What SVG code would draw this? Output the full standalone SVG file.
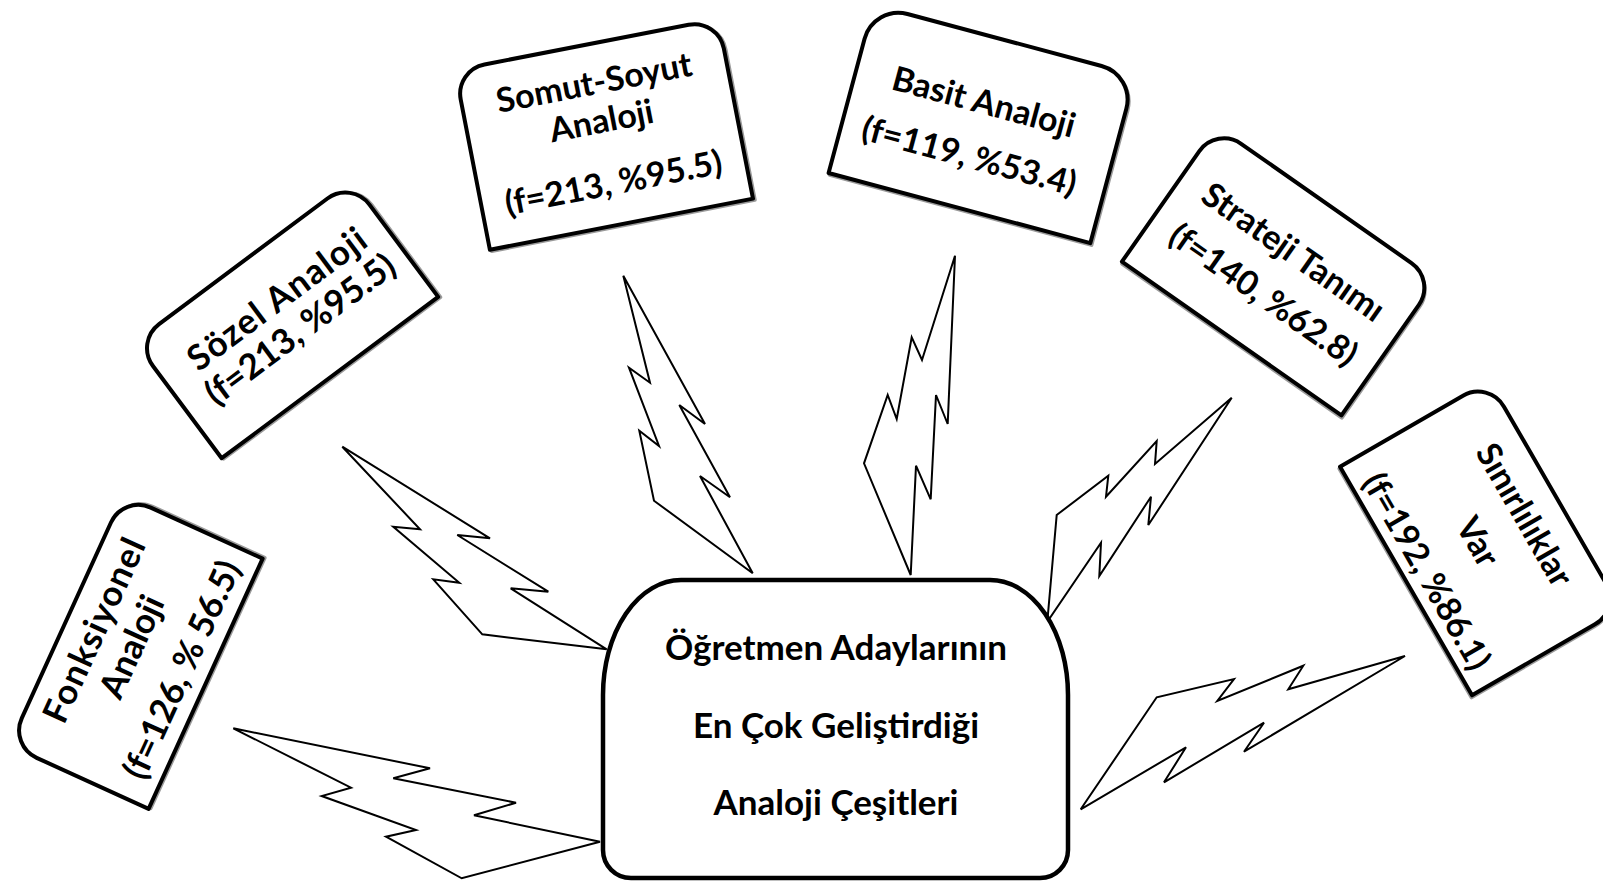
<svg xmlns="http://www.w3.org/2000/svg" width="1603" height="882" viewBox="0 0 1603 882">
<style>
.bg{fill:#ffffff}
.box{fill:#ffffff;stroke:#000;stroke-width:4;stroke-linejoin:round}
.shadow{fill:none;stroke:#9a9a9a;stroke-width:4;stroke-linejoin:round}
.bolt{fill:#ffffff;stroke:#000;stroke-width:2;stroke-linejoin:miter}
.t{font-family:Lato,"Liberation Sans",sans-serif;font-weight:bold;font-size:34px;fill:#000;text-anchor:middle}
.ct{font-family:Lato,"Liberation Sans",sans-serif;font-weight:bold;font-size:35px;fill:#000;text-anchor:middle}
</style>
<rect class="bg" x="0" y="0" width="1603" height="882"/>
<g id="connectors">
<polygon class="bolt" points="233.3,728.3 430,768.3 393.3,778.3 516,802.7 474,815.3 600,841.7 461.7,878.3 386,836.7 416,830 321.7,796 351,787.7"/>
<polygon class="bolt" points="342.3,446.7 490,538.3 457.3,535 548.3,591.7 510.7,588.3 606.7,649.3 482.3,634.3 433.3,579.3 459.3,582.7 393.3,526.7 420,529.3"/>
<polygon class="bolt" points="623.3,275.7 705,424 679.3,405 730,497.3 700,476 752.7,573.3 654,500.7 639.3,430.7 659,446 629,367.7 650,382.7"/>
<polygon class="bolt" points="955,255.7 947.7,424 936,395 930.7,499.3 916,465.7 910.7,575 864,463.3 887.7,395 896.7,419 911.7,337.3 922,360"/>
<polygon class="bolt" points="1231.7,397.7 1148.3,525 1151,496.7 1099.3,576 1101,542.7 1047.3,621.7 1056.7,515 1108.3,475.7 1106,496.7 1156.7,441 1155,464"/>
<polygon class="bolt" points="1405,656 1244,751.7 1264,722.7 1164,782.3 1186,747.3 1080.7,809.3 1156.7,697.3 1234,679 1217.3,701 1303.3,665.7 1288.3,689.3"/>
</g>
<g id="center">
<path class="box" style="stroke-width:4.5" d="M603,850 V695 A78,115 0 0 1 681,580 H990 A78,115 0 0 1 1068,695 V850 A28,28 0 0 1 1040,878 H631 A28,28 0 0 1 603,850 Z"/>
<text class="ct" x="836" y="660">Öğretmen Adaylarının</text>
<text class="ct" x="836" y="738">En Çok Geliştirdiği</text>
<text class="ct" x="836" y="815">Analoji Çeşitleri</text>
</g>
<g id="fonksiyonel" transform="translate(136,652) rotate(-65.5)">
<path class="shadow" transform="translate(1.5,1.5)" d="M-137.5,76.5 V-46.5 A30,30 0 0 1 -107.5,-76.5 H107.5 A30,30 0 0 1 137.5,-46.5 V76.5 Z"/>
<path class="box" d="M-137.5,76.5 V-46.5 A30,30 0 0 1 -107.5,-76.5 H107.5 A30,30 0 0 1 137.5,-46.5 V76.5 Z"/>
<text class="t" style="font-size:35px;letter-spacing:1.2px" x="3" y="-35">Fonksiyonel</text>
<text class="t" style="font-size:35px" x="3" y="6">Analoji</text>
<text class="t" style="font-size:35px" x="3" y="61">(f=126, % 56.5)</text>
</g>
<g id="sozel" transform="translate(286.6,319.4) rotate(-36.7)">
<path class="shadow" transform="translate(1.5,1.5)" d="M-135,72.5 V-42.5 A30,30 0 0 1 -105,-72.5 H105 A30,30 0 0 1 135,-42.5 V72.5 Z"/>
<path class="box" d="M-135,72.5 V-42.5 A30,30 0 0 1 -105,-72.5 H105 A30,30 0 0 1 135,-42.5 V72.5 Z"/>
<text class="t" style="font-size:35px;letter-spacing:1.3px" x="5" y="-10">Sözel Analoji</text>
<text class="t" style="font-size:35px" x="5" y="28">(f=213, %95.5)</text>
</g>
<g id="somut" transform="translate(604,134.4) rotate(-11)">
<path class="shadow" transform="translate(1.5,1.5)" d="M-134,91.5 V-61.5 A30,30 0 0 1 -104,-91.5 H104 A30,30 0 0 1 134,-61.5 V91.5 Z"/>
<path class="box" d="M-134,91.5 V-61.5 A30,30 0 0 1 -104,-91.5 H104 A30,30 0 0 1 134,-61.5 V91.5 Z"/>
<text class="t" x="0" y="-41">Somut-Soyut</text>
<text class="t" x="0" y="-2">Analoji</text>
<text class="t" x="0" y="61">(f=213, %95.5)</text>
</g>
<g id="basit" transform="translate(982,124) rotate(15)">
<path class="shadow" transform="translate(1.5,1.5)" d="M-135.5,87 V-52 A35,35 0 0 1 -100.5,-87 H100.5 A35,35 0 0 1 135.5,-52 V87 Z"/>
<path class="box" d="M-135.5,87 V-52 A35,35 0 0 1 -100.5,-87 H100.5 A35,35 0 0 1 135.5,-52 V87 Z"/>
<text class="t" x="-4" y="-10">Basit Analoji</text>
<text class="t" x="-4" y="46">(f=119, %53.4)</text>
</g>
<g id="strateji" transform="translate(1279,271) rotate(35)">
<path class="shadow" transform="translate(1.5,1.5)" d="M-134,82.5 V-52.5 A30,30 0 0 1 -104,-82.5 H104 A30,30 0 0 1 134,-52.5 V82.5 Z"/>
<path class="box" d="M-134,82.5 V-52.5 A30,30 0 0 1 -104,-82.5 H104 A30,30 0 0 1 134,-52.5 V82.5 Z"/>
<text class="t" x="1" y="-12">Strateji Tanımı</text>
<text class="t" x="1" y="40">(f=140, %62.8)</text>
</g>
<g id="sinirliliklar" transform="translate(1480.5,538) rotate(60)">
<path class="shadow" transform="translate(1.5,1.5)" d="M-132,86 V-56 A30,30 0 0 1 -102,-86 H102 A30,30 0 0 1 132,-56 V86 Z"/>
<path class="box" d="M-132,86 V-56 A30,30 0 0 1 -102,-86 H102 A30,30 0 0 1 132,-56 V86 Z"/>
<text class="t" x="2" y="-38">Sınırlılıklar</text>
<text class="t" x="2" y="16">Var</text>
<text class="t" x="2" y="75">(f=192, %86.1)</text>
</g>
</svg>
